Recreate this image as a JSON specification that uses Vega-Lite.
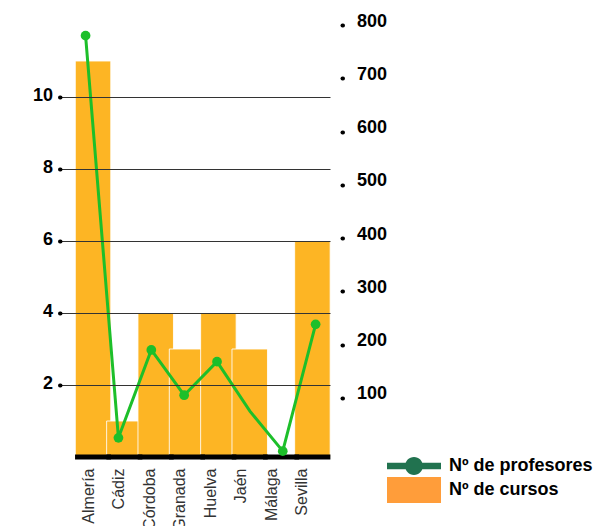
{
  "$schema": "https://vega.github.io/schema/vega-lite/v6.json",
  "autosize": "none",
  "width": 270,
  "height": 432,
  "padding": {"left": 60, "top": 25, "right": 266, "bottom": 69},
  "background": "white",
  "config": {"view": {"stroke": null}},
  "data": {"values": [
    {"prov": "Almería", "cursos": 11, "profesores": 780},
    {"prov": "Cádiz", "cursos": 1, "profesores": 25},
    {"prov": "Córdoba", "cursos": 4, "profesores": 190},
    {"prov": "Granada", "cursos": 3, "profesores": 105},
    {"prov": "Huelva", "cursos": 4, "profesores": 168},
    {"prov": "Jaén", "cursos": 3, "profesores": 75},
    {"prov": "Málaga", "cursos": 0, "profesores": 0},
    {"prov": "Sevilla", "cursos": 6, "profesores": 238}
  ]},
  "layer": [
    {
      "encoding": {
        "x": {"field": "prov", "type": "nominal", "sort": null, "axis": null,
              "scale": {"type": "band", "paddingInner": 0, "paddingOuter": 0.308, "align": 0.9}},
        "y": {"field": "cursos", "type": "quantitative",
              "scale": {"domain": [0, 12], "nice": false},
              "axis": {"orient": "left", "values": [2, 4, 6, 8, 10], "grid": true, "gridColor": "#333333", "gridWidth": 1,
                       "domain": false, "tickSize": 0.5, "tickWidth": 4, "tickCap": "round", "tickColor": "black",
                       "labelFont": "Liberation Sans", "labelFontWeight": "bold", "labelFontSize": 18, "labelColor": "black",
                       "labelPadding": 7, "labelOffset": -2, "title": null, "zindex": 1}}
      },
      "layer": [
        {
          "mark": {"type": "bar", "width": 35.5, "fill": "#FDB524", "stroke": "white", "strokeWidth": 1, "strokeOpacity": 0.85}
        },
        {
          "mark": {"type": "bar", "width": 1, "opacity": 0},
          "encoding": {
            "fill": {"datum": "Nº de cursos", "type": "nominal", "scale": {"range": ["#FF9D3A"]},
                     "legend": {"orient": "none", "legendX": 327, "legendY": 438, "title": null,
                                "symbolType": "M-1,-0.48 H1 V0.48 H-1 Z", "symbolSize": 2916,
                                "symbolOpacity": 1, "symbolStrokeWidth": 0,
                                "labelFont": "Liberation Sans", "labelFontWeight": "bold", "labelFontSize": 18,
                                "labelColor": "black", "labelOffset": 8, "padding": 0}}
          }
        },
        {
          "mark": {"type": "tick", "color": "black", "thickness": 5, "size": 36, "orient": "horizontal", "opacity": 1},
          "encoding": {"y": {"datum": 0, "type": "quantitative"}}
        }
      ]
    },
    {
      "encoding": {
        "x": {"field": "prov", "type": "nominal", "sort": null, "axis": null,
              "scale": {"type": "point", "padding": 0.608, "align": 0.64}},
        "y": {"field": "profesores", "type": "quantitative",
              "scale": {"domain": [-11, 800], "nice": false, "zero": false},
              "axis": {"orient": "right", "offset": 12, "values": [100, 200, 300, 400, 500, 600, 700, 800], "grid": false,
                       "domain": false, "tickSize": 0.5, "tickWidth": 4, "tickCap": "round", "tickColor": "black",
                       "labelFont": "Liberation Sans", "labelFontWeight": "bold", "labelFontSize": 18, "labelColor": "black",
                       "labelPadding": 14, "labelOffset": -4, "title": null}}
      },
      "layer": [
        {
          "mark": {"type": "line", "strokeWidth": 3},
          "encoding": {
            "stroke": {"datum": "Nº de profesores", "type": "nominal", "scale": {"range": ["#1DBF2A"]},
                       "legend": {"orient": "none", "legendX": 327, "legendY": 414, "title": null,
                                  "symbolType": "M-1,-0.12 H1 V0.12 H-1 Z M0.33,0 A0.33,0.33 0 1,1 -0.33,0 A0.33,0.33 0 1,1 0.33,0 Z",
                                  "symbolSize": 2916,
                                  "labelFont": "Liberation Sans", "labelFontWeight": "bold", "labelFontSize": 18,
                                  "labelColor": "black", "labelOffset": 8, "padding": 0,
                                  "encode": {"symbols": {"update": {"fill": {"value": "#21724F"}, "stroke": {"value": "#21724F"}, "strokeWidth": {"value": 0}, "opacity": {"value": 1}}}}}}
          }
        },
        {
          "transform": [{"filter": "datum.prov !== 'Jaén'"}],
          "mark": {"type": "point", "filled": true, "size": 95, "color": "#1DBF2A", "opacity": 1}
        }
      ]
    },
    {
      "mark": {"type": "point", "opacity": 0},
      "encoding": {
        "x": {"field": "prov", "type": "nominal", "sort": null,
              "scale": {"type": "point", "padding": 0.936, "align": 0.5},
              "axis": {"orient": "bottom", "labelAngle": -90, "ticks": false, "domain": false, "labelPadding": 11,
                       "labelFont": "Liberation Sans", "labelFontSize": 16, "labelColor": "#333333", "title": null}}
      }
    }
  ],
  "resolve": {"scale": {"x": "independent", "y": "independent", "stroke": "independent"}}
}
